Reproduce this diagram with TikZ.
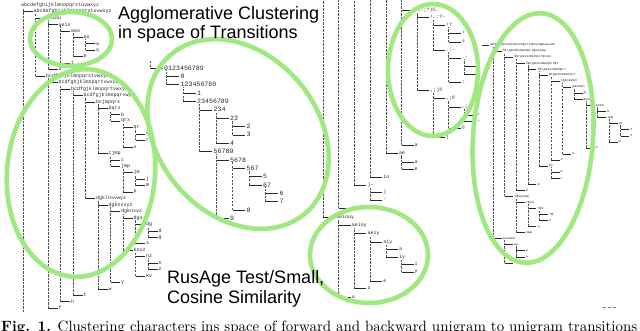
\documentclass[tikz,border=0pt]{standalone}
\usepackage{fontspec}
\usepackage{graphicx}
\newfontfamily\treefont{Liberation Mono}
\newfontfamily\lblfont{Liberation Sans}
\definecolor{hl}{RGB}{160,232,130}
\definecolor{ink}{RGB}{40,40,40}
\tikzset{
  tl/.style={inner sep=0pt, anchor=west, text=ink, font=\treefont\fontsize{5}{5}\selectfont},
  dl/.style={tl, font=\treefont\fontsize{6.6}{6.6}\selectfont},
  rl/.style={tl, font=\treefont\fontsize{3.4}{4}\selectfont},
  brline/.style={draw=ink, line width=0.45pt},
  vline/.style={draw=ink!80, line width=0.45pt, dash pattern=on 2.4pt off 1.1pt},
  ring/.style={draw=hl, line width=4.6pt},
  lbl/.style={inner sep=0pt, anchor=base west, font=\lblfont\fontsize{18}{20}\selectfont},
}
\begin{document}
\begin{tikzpicture}[x=1pt,y=-1pt]
\useasboundingbox (0,0) rectangle (640,330);

% ---------------- left tree ----------------
\foreach \rr/\dd/\tx in {0/0/abcdefghijklmnopqrstuvwxyz,
 1/1/abcdefghijklmnopqrstuvwxyz,
 2/2/aeiou, 3/3/aeio, 4/4/aeo, 5/5/ao, 6/6/a, 7/6/o, 8/5/e, 9/4/i, 10/3/u,
 11/2/bcdfghjklmnpqrstvwxyz, 12/3/bcdfghjklmnpqrtvwxyz, 13/4/bcdfgjklmnpqrtvwxyz,
 14/5/bcdfgjklmnpqrvwyz, 15/6/bcjmpqrx, 16/7/bqrx, 17/8/b, 18/8/qrx, 19/9/qr,
 20/10/q, 21/10/r, 22/9/x, 23/7/cjmp, 24/8/c, 25/8/jmp, 26/9/jm, 27/10/j, 28/10/m,
 29/9/p, 30/6/dgklnsvwyz, 31/7/dgknsvyz, 32/8/dgknsvz, 33/9/dgs, 34/10/dg, 35/11/d,
 36/11/g, 37/10/s, 38/9/knvz, 39/10/nz, 40/11/n, 41/11/z, 42/10/kv, 43/8/y, 44/7/w,
 45/5/t, 46/4/h, 47/3/f}{
  \pgfmathsetmacro\yy{5+6.45*\rr}
  \ifnum\dd=0
    \node[tl] (L\rr) at (21,\yy) {\tx};
  \else
    \pgfmathsetmacro\xx{23+12.5*(\dd-1)}
    \coordinate (LC\rr) at (\xx,\yy);
    \node[tl] (L\rr) at (\xx+10.5,\yy) {\tx};
    \draw[brline] (LC\rr) -- ([xshift=-1pt]L\rr.west);
  \fi
}
\coordinate (Lend) at (23,312);
\draw[vline] (Lend) -- (Lend |- L0.south);
\foreach \aa/\bb in {1/11, 2/10, 11/47, 3/9, 12/46, 4/8, 13/45, 5/7, 14/30, 15/23,
 30/44, 16/18, 23/25, 31/43, 18/22, 25/29, 32/38, 19/21, 26/28, 33/37, 38/42, 34/36, 39/41}{
  \draw[vline] (LC\bb) -- (LC\bb |- L\aa.south);
}

% ---------------- digits tree ----------------
\foreach \rr/\dd/\tx in {0/1/0123456789, 1/2/0, 2/2/123456789, 3/3/1, 4/3/23456789,
 5/4/234, 6/5/23, 7/6/2, 8/6/3, 9/5/4, 10/4/56789, 11/5/5678, 12/6/567, 13/7/5,
 14/7/67, 15/8/6, 16/8/7, 17/6/8, 18/5/9}{
  \pgfmathsetmacro\yy{68+8.35*\rr}
  \pgfmathsetmacro\xx{150+16.5*(\dd-1)}
  \coordinate (DC\rr) at (\xx,\yy);
  \node[dl] (D\rr) at (\xx+14,\yy) {\tx};
  \draw[brline] (DC\rr) -- ([xshift=-1.5pt]D\rr.west);
}
\coordinate (Dtop) at (150,61);
\draw[vline] (Dtop) -- (DC0);
\foreach \aa/\bb in {0/2, 2/4, 4/10, 5/9, 6/8, 10/18, 11/17, 12/14, 14/16}{
  \draw[vline] (DC\bb) -- (DC\bb |- D\aa.south);
}

% ---------------- middle-right column ----------------
\coordinate (Mtop) at (0,0);
\foreach \yy/\kk/\tx [count=\ii from 0] in {10/5/{,.:;?)©…}, 17/6/{!.:?-}, 25/7/{!?},
 33/8/{!}, 42/8/{?}, 50/7/{.:-}, 58/8/{.-}, 66/9/{.}, 74/9/{-}, 82/8/{:},
 90/6/{,;)©}, 98/7/{,;©}, 107/8/{,;}, 115/9/{,}, 121/9/{;}, 128/8/{©}, 137/7/{)},
 145/5/{a}, 153/4/{ae}, 162/5/{a}, 169/5/{e}, 177/3/{io}, 185/2/{)-}, 192/3/{)},
 200/3/{-}, 208/1/{z}, 217/0/{aeiouy}, 225/1/{aeioy}, 233/2/{aeiy}, 242/3/{aiy},
 249/4/{a}, 257/4/{iy}, 264/5/{i}, 272/5/{y}, 281/3/{e}, 288/2/{o}, 297/1/{u}}{
  \pgfmathsetmacro\xx{323+15.7*\kk}
  \coordinate (MC\ii) at (\xx,\yy);
  \node[tl] (M\ii) at (\xx+13,\yy) {\tx};
  \draw[brline] (MC\ii) -- ([xshift=-1pt]M\ii.west);
}
\foreach \bb in {26, 25, 22, 21, 18, 17}{
  \draw[vline] (MC\bb) -- (MC\bb |- Mtop);
}
\foreach \aa/\bb in {0/10, 1/5, 2/4, 5/9, 6/8, 10/16, 11/15, 12/14, 18/20, 22/24,
 26/36, 27/35, 28/34, 29/31, 31/33}{
  \draw[vline] (MC\bb) -- (MC\bb |- M\aa.south);
}

% ---------------- right tree (Cyrillic) ----------------
\coordinate (RC0) at (482,45);
\node[rl] (R0) at (490,45) {абвгдежзийклмнопрстуфхцчшщъыьэюя};
\draw[brline] (RC0) -- ([xshift=-1pt]R0.west);
\foreach \rr/\kk/\tx in {1/0/бвгджзйклмнпрстфхцчшщ, 2/1/бвгджзклмнпрстфхцч,
 3/2/бвгджзклмнпрстфх, 4/3/бвгджзклмнпрст, 5/4/вгджзклмнпрст, 6/5/гджзкмнп,
 7/6/джзкмп, 8/7/д, 9/7/жзкмп, 10/8/жзкм, 11/9/ж, 12/9/зкм, 13/10/зк, 14/11/з,
 15/11/к, 16/10/м, 17/8/п, 18/6/н, 19/5/л, 20/4/рс, 21/5/р, 22/5/с, 23/3/в,
 24/2/б, 25/1/тфхцчшщ, 26/2/тфхц, 27/3/тфх, 28/4/тф, 29/4/х, 30/3/ц, 31/2/чшщ,
 32/0/ъыьэюя, 33/1/ыь, 34/2/ы, 35/2/ь, 36/1/эюя}{
  \pgfmathsetmacro\yy{45+6.05*\rr}
  \pgfmathsetmacro\xx{493+11.6*\kk}
  \coordinate (RC\rr) at (\xx,\yy);
  \node[rl] (R\rr) at (\xx+9.5,\yy) {\tx};
  \draw[brline] (RC\rr) -- ([xshift=-1pt]R\rr.west);
}
\foreach \aa/\bb in {0/32, 1/25, 32/36, 2/24, 25/31, 33/35, 3/23, 26/30, 4/20,
 27/29, 5/19, 20/22, 6/18, 7/9, 9/17, 10/12, 12/16, 13/15}{
  \draw[vline] (RC\bb) -- (RC\bb |- R\aa.south);
}

% ---------------- highlight rings ----------------
\draw[ring] (71,39) ellipse [x radius=41, y radius=27];
\draw[ring, rotate around={-5:(81,173)}] (81,173) ellipse [x radius=74, y radius=104];
\draw[ring, rotate around={-50:(238,134)}] (238,134) ellipse [x radius=104, y radius=80];
\draw[ring] (433,70) ellipse [x radius=45, y radius=66];
\draw[ring, rotate around={-4:(533,138)}] (533,138) ellipse [x radius=60, y radius=125];
\draw[ring] (369,255) ellipse [x radius=59, y radius=48];

% ---------------- labels ----------------
\node[lbl] (t1) at (118,19) {Agglomerative Clustering};
\node[lbl] (t2) at (118,38.5) {in space of Transitions};
\node[lbl] (t3) at (167,283) {RusAge Test/Small,};
\node[lbl] (t4) at (167,303) {Cosine Similarity};

\draw[ink!60, line width=0.6pt, dash pattern=on 3pt off 2pt] (603,307.5) -- (617,307.5);

\node[anchor=base west, inner sep=0pt] (cap) at (1,331.8)
  {\resizebox{636pt}{!}{\fontsize{10}{12}\selectfont\textbf{Fig. 1.} Clustering characters ins space of forward and backward unigram to unigram transitions}};
\end{tikzpicture}
\end{document}
